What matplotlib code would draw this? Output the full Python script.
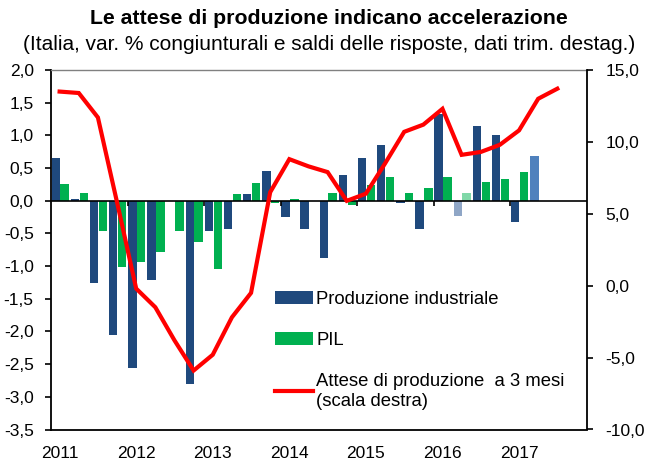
import numpy as np
import matplotlib
matplotlib.use('Agg')
import matplotlib.pyplot as plt
from matplotlib.ticker import FuncFormatter

plt.rcParams['font.family'] = ['Liberation Sans', 'DejaVu Sans']

# quarterly data, 2011Q1 onwards
years = ['2011', '2012', '2013', '2014', '2015', '2016', '2017']
prod_ind = [0.66, 0.03, -1.26, -2.05, -2.56, -1.22, 0.00, -2.80,
            -0.47, -0.43, 0.11, 0.46, -0.25, -0.43, -0.87, 0.40,
            0.66, 0.86, -0.04, -0.43, 1.33, -0.23, 1.15, 1.01,
            -0.32, 0.68]
pil = [0.25, 0.12, -0.47, -1.02, -0.94, -0.78, -0.47, -0.63,
       -1.04, 0.11, 0.27, -0.03, 0.02, 0.00, 0.12, -0.06,
       0.24, 0.37, 0.12, 0.20, 0.36, 0.12, 0.29, 0.33,
       0.44]
attese = [13.5, 13.4, 11.7, 5.8, -0.2, -1.5, -3.8, -5.9, -4.8, -2.2,
          -0.5, 6.5, 8.8, 8.3, 7.9, 5.9, 6.4, 8.5, 10.7, 11.2,
          12.3, 9.1, 9.3, 9.8, 10.8, 13.0, 13.7]

BLUE = '#1F497D'
GREEN = '#00B050'
blue_cols = [BLUE] * len(prod_ind)
green_cols = [GREEN] * len(pil)
blue_cols[21] = '#8FA6C6'
green_cols[21] = '#80D8A8'
blue_cols[25] = '#4F81BD'

fig = plt.figure(figsize=(6.58, 4.61), dpi=100)
ax = fig.add_axes([51/658, 1 - 429.5/461, 536/658, 359.5/461])

w = 0.44
xb = np.arange(len(prod_ind))
xg = np.arange(len(pil))
ax.bar(xb + 0.03, prod_ind, w, align='edge', color=blue_cols, label='Produzione industriale', zorder=2)
ax.bar(xg + 0.49, pil, w, align='edge', color=green_cols, label='PIL', zorder=2)

ax.axhline(0, color='black', lw=1.2, zorder=3)
# year separators on the zero line
ax.vlines(np.arange(1, len(years)) * 4, -0.08, 0, color='black', lw=1.2, zorder=3)

ax.set_xlim(0, 28)
ax.set_ylim(-3.5, 2.0)
ax.set_yticks(np.arange(-3.5, 2.01, 0.5))
fmt = FuncFormatter(lambda v, p: f"{v:.1f}".replace('.', ','))
ax.yaxis.set_major_formatter(fmt)
ax.set_xticks(np.arange(len(years)) * 4 + 0.45)
ax.set_xticklabels(years)
ax.tick_params(axis='x', length=0, pad=12, labelsize=12.5)
ax.tick_params(axis='y', length=4.5, width=1.2, pad=8, labelsize=12.5)

for s in ['left', 'bottom']:
    ax.spines[s].set_linewidth(1.3)
ax.spines['top'].set_color('#808080')
ax.spines['top'].set_linewidth(1.0)
ax.spines['right'].set_visible(False)

ax2 = ax.twinx()
ax2.plot(np.arange(len(attese)) + 0.45, attese, color='#FF0000', lw=3,
         solid_joinstyle='miter', label='Attese di produzione  a 3 mesi\n(scala destra)', zorder=4)
ax2.set_ylim(-10, 15)
ax2.set_yticks(np.arange(-10, 15.1, 5))
ax2.yaxis.set_major_formatter(fmt)
ax2.tick_params(axis='y', length=4.5, width=1.2, pad=9, labelsize=12.5)
ax2.spines['right'].set_linewidth(1.3)
for s in ['top', 'left', 'bottom']:
    ax2.spines[s].set_visible(False)

h1, l1 = ax.get_legend_handles_labels()
h2, l2 = ax2.get_legend_handles_labels()
ax2.legend(h1 + h2, l1 + l2, loc='upper left', bbox_to_anchor=(0.418, 0.385),
           frameon=False, fontsize=13.3, handlelength=2.05, handletextpad=0.18,
           labelspacing=1.3, borderpad=0, borderaxespad=0)

fig.text(0.5, 1 - 18/461, 'Le attese di produzione indicano accelerazione',
         ha='center', va='center', fontsize=15.3, fontweight='bold')
fig.text(0.5, 1 - 45/461,
         '(Italia, var. % congiunturali e saldi delle risposte, dati trim. destag.)',
         ha='center', va='center', fontsize=15)

fig.savefig('out.png', dpi=100)
